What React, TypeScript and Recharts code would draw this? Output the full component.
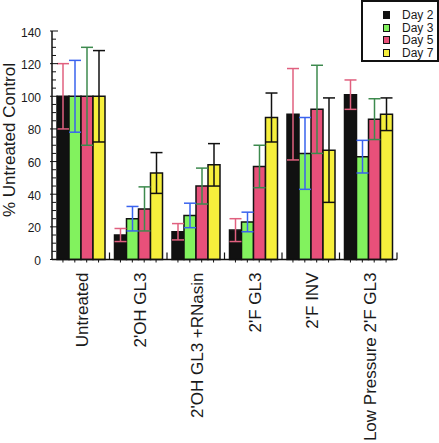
import { Bar, BarChart, ErrorBar, XAxis, YAxis } from 'recharts';

const categories = ["Untreated", "2'OH GL3", "2'OH GL3 +RNasin", "2'F GL3", "2'F INV", "Low Pressure 2'F GL3"];
const day2 = [100, 15, 17, 18, 89, 101];
const day2Err = [20, 4, 5, 7, 28, 9];
const day3 = [100, 25, 27, 23, 65, 63];
const day3Err = [22, 7.5, 7.5, 6, 22, 10];
const day5 = [100, 31, 45, 57, 92, 86];
const day5Err = [30, 13.5, 11, 13, 27, 12.5];
const day7 = [100, 53, 58, 87, 67, 89];
const day7Err = [28, 12.5, 13, 15, 32, 10];
const yTicks = [0, 5, 10, 15, 20, 25, 30, 35, 40, 45, 50, 55, 60, 65, 70, 75, 80, 85, 90, 95, 100, 105, 110, 115, 120, 125, 130, 135, 140];

const data = categories.map((name, i) => ({
  name,
  day2: day2[i], day2Err: day2Err[i],
  day3: day3[i], day3Err: day3Err[i],
  day5: day5[i], day5Err: day5Err[i],
  day7: day7[i], day7Err: day7Err[i],
}));

const series = [
  { key: 'day2', name: 'Day 2', fill: '#111111', err: '#e0607f' },
  { key: 'day3', name: 'Day 3', fill: '#82f25e', err: '#3a63ee' },
  { key: 'day5', name: 'Day 5', fill: '#e8507a', err: '#3d8a4e' },
  { key: 'day7', name: 'Day 7', fill: '#f6ef3c', err: '#111111' },
];

const W = 439;
const H = 443;
const margin = { top: 31, right: 42, bottom: 0, left: 0 };
const yAxisW = 52;
const xAxisH = 183.5;
const catGap = 5;
const band = (W - margin.left - margin.right - yAxisW) / categories.length;
const font = '"Liberation Sans", Arial, sans-serif';

function XTick({ x, y, payload }: any) {
  const barW = (band - 2 * catGap) / series.length;
  const centers = series.map((_, i) => -band / 2 + catGap + barW * (i + 0.5));
  return (
    <g>
      {centers.map((c, i) => (
        <line key={i} x1={x + c} x2={x + c} y1={y} y2={y + 3} stroke="#111" strokeWidth={1} />
      ))}
      <line x1={x + band / 2} x2={x + band / 2} y1={y - 7} y2={y} stroke="#111" strokeWidth={1.2} />
      <text
        x={x + 2}
        y={y + 13}
        transform={`rotate(-90, ${x + 2}, ${y + 13})`}
        textAnchor="end"
        dominantBaseline="central"
        fontSize={17}
        fontFamily={font}
        fill="#1a1a1a"
      >
        {payload.value}
      </text>
    </g>
  );
}

function YTick({ x, y, payload }: any) {
  const v = payload.value;
  const major = v % 20 === 0;
  const ax = x + 11;
  return (
    <g>
      <line x1={major ? ax - 2 : ax} x2={ax + (major ? 6 : 4)} y1={y} y2={y} stroke="#111" strokeWidth={1} />
      {major && (
        <text x={x} y={y + 1.5} textAnchor="end" dominantBaseline="central" fontSize={12} fontFamily={font} fill="#1a1a1a">
          {v}
        </text>
      )}
    </g>
  );
}

function YLabel() {
  return (
    <text
      x={9}
      y={140}
      transform="rotate(-90, 9, 140)"
      textAnchor="middle"
      dominantBaseline="central"
      fontSize={17}
      fontFamily={font}
      fill="#1a1a1a"
    >
      % Untreated Control
    </text>
  );
}

function LegendBox() {
  return (
    <div
      style={{
        position: 'absolute',
        left: 361,
        top: 0,
        width: 78,
        height: 62,
        boxSizing: 'border-box',
        border: '2px solid #111',
        background: '#fff',
        fontFamily: font,
        fontSize: 12,
        color: '#1a1a1a',
        paddingTop: 7,
      }}
    >
      {series.map((s) => (
        <div key={s.key} style={{ display: 'flex', alignItems: 'center', height: 12.6 }}>
          <span
            style={{
              display: 'inline-block',
              marginLeft: 20,
              width: 7,
              height: 8,
              boxSizing: 'border-box',
              background: s.fill,
              border: '1.5px solid #111',
            }}
          />
          <span style={{ marginLeft: 12 }}>{s.name}</span>
        </div>
      ))}
    </div>
  );
}

export default function App() {
  return (
    <div style={{ position: 'absolute', left: 0, top: 0, width: W, height: H, background: '#fff' }}>
      <BarChart width={W} height={H} data={data} margin={margin} barCategoryGap={catGap} barGap={0}>
        <XAxis
          dataKey="name"
          height={xAxisH}
          interval={0}
          tickSize={0}
          tickMargin={0}
          tickLine={false}
          axisLine={{ stroke: '#111', strokeWidth: 1.5 }}
          tick={<XTick />}
        />
        <YAxis
          width={yAxisW}
          domain={[0, 140]}
          ticks={yTicks}
          interval={0}
          tickSize={0}
          tickMargin={11}
          tickLine={false}
          axisLine={{ stroke: '#111', strokeWidth: 1.5 }}
          tick={<YTick />}
          label={<YLabel />}
        />
        {series.map((s) => (
          <Bar key={s.key} dataKey={s.key} name={s.name} fill={s.fill} stroke="#111" strokeWidth={1.5} isAnimationActive={false}>
            <ErrorBar dataKey={`${s.key}Err`} stroke={s.err} strokeWidth={1.5} width={6} isAnimationActive={false} />
          </Bar>
        ))}
      </BarChart>
      <LegendBox />
    </div>
  );
}
